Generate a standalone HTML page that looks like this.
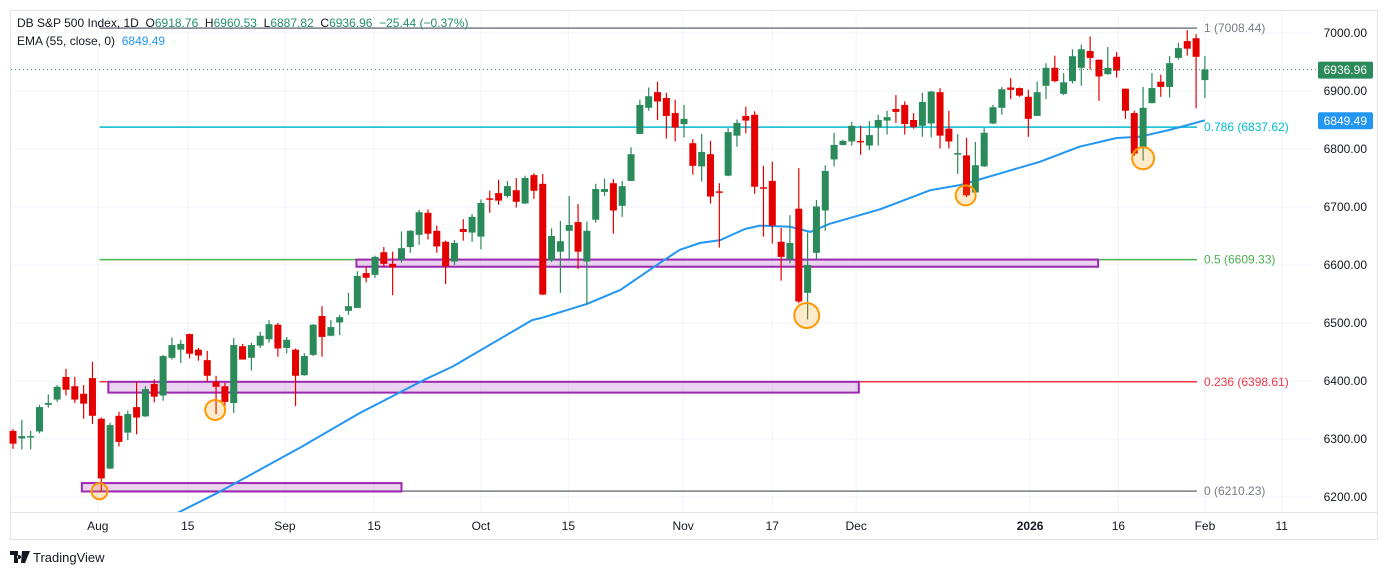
<!DOCTYPE html>
<html><head><meta charset="utf-8">
<style>
html,body{margin:0;padding:0;background:#fff;}
body{width:1388px;height:575px;overflow:hidden;font-family:"Liberation Sans",sans-serif;}
svg text{font-family:"Liberation Sans",sans-serif;}
.pre{white-space:pre;}
</style></head>
<body>
<svg id="chart" width="1388" height="575" xmlns="http://www.w3.org/2000/svg">
<rect x="10.5" y="10.5" width="1367" height="529" fill="#fff" stroke="#e0e3eb"/>
<g id="grid"></g>
<g id="fib"></g>
<g id="zones"></g>
<g id="ema"></g>
<g id="candles"></g>
<g id="circles"></g>
<g id="axes"></g>
<text class="pre" x="17" y="27" font-size="12" fill="#131722">DB S&amp;P 500 Index, 1D  O<tspan fill="#22916a">6918.76</tspan>  H<tspan fill="#22916a">6960.53</tspan>  L<tspan fill="#22916a">6887.82</tspan>  C<tspan fill="#22916a">6936.96</tspan>  <tspan fill="#22916a">−25.44 (−0.37%)</tspan></text>
<text class="pre" x="17" y="45" font-size="12" fill="#131722">EMA (55, close, 0)  <tspan fill="#2196f3">6849.49</tspan></text>
</svg>
<script>
const opens=[6314,6301,6303,6313,6359,6368,6407,6391,6378,6405,6335,6249,6340,6311,6355,6339,6395,6375,6440,6454,6481,6454,6436,6399,6391,6362,6460,6440,6461,6472,6497,6457,6454,6410,6445,6512,6478,6501,6521,6526,6586,6583,6622,6602,6609,6631,6652,6690,6659,6640,6606,6662,6656,6649,6715,6724,6719,6729,6706,6755,6740,6608,6623,6659,6674,6606,6678,6726,6741,6702,6745,6826,6871,6898,6888,6862,6843,6810,6770,6791,6727,6754,6823,6857,6859,6734,6745,6640,6610,6697,6552,6621,6694,6782,6807,6813,6814,6806,6837,6849,6869,6876,6850,6840,6844,6898,6835,6792,6789,6725,6770,6844,6871,6906,6905,6890,6857,6909,6940,6895,6917,6940,6969,6954,6929,6959,6904,6862,6804,6879,6916,6907,6957,6986,6991,6918.76];
const highs=[6317,6333,6314,6359,6377,6393,6421,6407,6393,6433,6337,6328,6347,6349,6399,6391,6403,6445,6475,6471,6482,6457,6452,6409,6397,6474,6464,6466,6485,6505,6500,6476,6456,6448,6498,6529,6505,6514,6552,6589,6597,6616,6631,6623,6658,6660,6695,6696,6668,6642,6643,6679,6688,6713,6728,6747,6745,6750,6754,6758,6757,6663,6676,6719,6705,6675,6740,6749,6748,6745,6803,6885,6906,6916,6897,6885,6876,6817,6826,6814,6741,6836,6851,6873,6865,6771,6778,6664,6686,6767,6656,6712,6772,6828,6816,6847,6840,6848,6859,6866,6893,6882,6862,6897,6900,6905,6866,6826,6819,6812,6836,6876,6907,6922,6906,6902,6916,6948,6961,6931,6972,6980,6994,6954,6976,6967,6904,6866,6907,6931,6928,6960,6983,7005,6998,6960.53];
const lows=[6283,6282,6282,6310,6354,6364,6375,6362,6335,6326,6209,6248,6287,6298,6308,6338,6363,6366,6437,6431,6439,6435,6398,6343,6351,6345,6437,6418,6457,6466,6442,6448,6357,6409,6443,6442,6477,6479,6514,6526,6570,6578,6597,6548,6604,6621,6635,6644,6621,6567,6600,6642,6640,6627,6690,6704,6716,6699,6705,6714,6548,6605,6552,6610,6593,6532,6673,6719,6654,6683,6745,6826,6866,6850,6818,6813,6820,6756,6744,6706,6630,6753,6804,6827,6723,6649,6637,6573,6603,6534,6506,6609,6659,6770,6806,6806,6790,6798,6806,6825,6845,6825,6835,6821,6820,6801,6801,6757,6717,6724,6769,6843,6859,6886,6890,6821,6857,6886,6915,6893,6913,6909,6937,6883,6928,6923,6852,6788,6780,6879,6890,6889,6954,6961,6870,6887.82];
const closes=[6292,6305,6305,6355,6362,6390,6385,6368,6361,6340,6232,6324,6295,6343,6337,6386,6373,6443,6462,6464,6447,6444,6409,6390,6364,6462,6437,6462,6478,6498,6456,6471,6409,6443,6497,6476,6493,6510,6529,6581,6578,6614,6602,6596,6629,6659,6691,6654,6632,6598,6638,6657,6683,6707,6713,6711,6736,6709,6750,6728,6549,6650,6641,6669,6623,6659,6731,6731,6694,6736,6791,6876,6891,6882,6857,6837,6852,6771,6795,6718,6727,6829,6845,6849,6735,6733,6668,6614,6638,6537,6600,6701,6762,6807,6814,6840,6813,6824,6850,6855,6864,6843,6838,6881,6899,6823,6813,6793,6720,6772,6828,6872,6903,6902,6892,6852,6898,6940,6917,6915,6960,6972,6957,6925,6940,6935,6866,6792,6871,6905,6907,6948,6974,6973,6959,6936.96];
const emaIdx=[17,23.4,32.5,39.3,46.7,49.8,58.8,59.9,65,68.8,73.3,75.5,77.8,80.1,82.9,84.6,88,90.3,92.5,98.2,103.9,107.3,111.8,116.3,120.8,125,127.6,131,135];
const emaVal=[6160,6209,6285,6345,6403,6425,6505,6509,6533,6557,6604,6626,6638,6643,6662,6668,6666,6657,6671,6696,6729,6738,6758,6778,6804,6819,6821,6833,6849.49];
const yTicks=[7000,6900,6800,6700,6600,6500,6400,6300,6200];
const xLabels=["Aug","15","Sep","15","Oct","15","Nov","17","Dec","2026","16","Feb","11"];
const xLabelIdx=[9.6,19.8,30.8,40.9,53,62.9,75.9,86,95.5,115.2,125.2,135,143.7];
const fibNames=["1","0.786","0.5","0.236","0"];
const fibVals=[7008.44,6837.62,6609.33,6398.61,6210.23];
const fibColors=["#787b86","#00bcd4","#4caf50","#f23645","#787b86"];
const zoneTop=[6398.6,6609.3,6224];
const zoneBot=[6380,6597,6209.5];
const zoneStart=[10.8,38.9,7.8];
const zoneEnd=[95.8,122.9,44];
const circleIdx=[9.8,22.9,89.9,107.9,128];
const circlePrice=[6210,6350,6513,6720,6784];
const circleR=[8,10,12.5,10,11];
const lastClose=6936.96, lastEma=6849.49;

const NS="http://www.w3.org/2000/svg";
const X=i=>13+i*8.829;
const Y=p=>33+(7000-p)*0.58;
function mk(tag,parent,attrs){const e=document.createElementNS(NS,tag);for(const k in attrs)e.setAttribute(k,attrs[k]);parent.appendChild(e);return e;}
const svg=document.getElementById('chart');
const grid=document.getElementById('grid'),axes=document.getElementById('axes');
yTicks.forEach(v=>{
  const l=mk('line',grid,{x1:11,x2:1312,y1:Y(v),y2:Y(v),stroke:'#f0f3fa'});
  
  
  const t=mk('text',axes,{x:1367,y:Y(v)+4,'font-size':12,'text-anchor':'end',fill:'#131722'});
  t.textContent=v.toFixed(2);
  
  
});
xLabels.forEach((s,k)=>{
  const x=X(xLabelIdx[k]);
  const l=mk('line',grid,{x1:x,x2:x,y1:11,y2:512,stroke:'#f0f3fa'});
  
  
  const t=mk('text',axes,{x:x,y:530,'font-size':12,'text-anchor':'middle',fill:'#131722','font-weight':s==='2026'?'bold':'normal'});
  t.textContent=s;
  
  
});
const ax=mk('line',axes,{x1:11,x2:1377,y1:512.5,y2:512.5,stroke:'#e0e3eb'});


const fib=document.getElementById('fib');
fibVals.forEach((v,k)=>{
  const l=mk('line',fib,{x1:X(9.8),x2:1197,y1:Y(v),y2:Y(v),stroke:fibColors[k],'stroke-width':1.5});
  
  
  const t=mk('text',fib,{x:1204,y:Y(v)+4,'font-size':12,fill:fibColors[k]});
  t.textContent=fibNames[k]+' ('+v.toFixed(2)+')';
  
  
});
const zones=document.getElementById('zones');
zoneTop.forEach((v,k)=>{
  const r=mk('rect',zones,{x:X(zoneStart[k]),y:Y(v),width:X(zoneEnd[k])-X(zoneStart[k]),height:Y(zoneBot[k])-Y(v),fill:'rgba(156,39,176,0.2)',stroke:'#9c27b0','stroke-width':2});
  
  
});
const emaG=document.getElementById('ema');
const pts=emaIdx.map((i,k)=>X(i).toFixed(1)+','+Y(emaVal[k]).toFixed(1)).join(' ');
const cp=mk('clipPath',emaG,{id:'plotclip'});mk('rect',cp,{x:11,y:11,width:1301,height:501});
const pl=mk('polyline',emaG,{points:pts,fill:'none',stroke:'#2196f3','stroke-width':2,'stroke-linejoin':'round','clip-path':'url(#plotclip)'});


const cg=document.getElementById('candles');
opens.forEach((o,i)=>{
  const c=closes[i],h=highs[i],lo=lows[i];
  const col=c>o?'#2a8a5a':'#e50000';
  const x=X(i);
  const g=mk('g',cg,{});
  
  
  mk('line',g,{x1:x,x2:x,y1:Y(h),y2:Y(lo),stroke:col,'stroke-width':1.2});
  const top=Y(Math.max(o,c)),bot=Y(Math.min(o,c));
  mk('rect',g,{x:x-3.5,y:top,width:7,height:Math.max(bot-top,1.5),fill:col});
});
const cc=document.getElementById('circles');
circleIdx.forEach((i,k)=>{
  const e=mk('circle',cc,{cx:X(i),cy:Y(circlePrice[k]),r:circleR[k],fill:'rgba(255,152,0,0.2)',stroke:'#ff9800','stroke-width':2});
  
  
});
const dl=mk('line',axes,{x1:11,x2:1317,y1:Y(lastClose),y2:Y(lastClose),stroke:'#2a8a5a','stroke-dasharray':'1,3'});


[[lastClose,'#2a8a5a','last-price-tag'],[lastEma,'#2196f3','ema-price-tag']].forEach(a=>{
  const g=mk('g',axes,{});
  
  
  mk('rect',g,{x:1318,y:Y(a[0])-8,width:55,height:17,rx:2,fill:a[1]});
  const t=mk('text',g,{x:1367,y:Y(a[0])+4.5,'font-size':12,'text-anchor':'end',fill:'#fff'});
  t.textContent=a[0].toFixed(2);
});
const lg=mk('text',svg,{x:33,y:562,'font-size':13,fill:'#131722'});
lg.textContent='TradingView';


</script>
<svg style="position:absolute;left:10px;top:551px" width="20" height="12"><path d="M0 0h8v12h-4v-8h-4z M9 4a2 2 0 1 0 0.1 0z M12 0h8l-5 12h-4z" fill="#131722"/></svg>
</body></html>
